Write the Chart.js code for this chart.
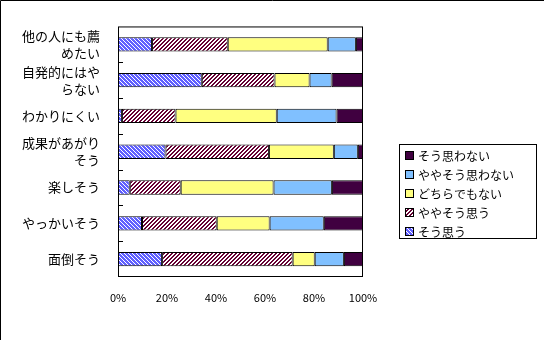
<!DOCTYPE html>
<html>
<head>
<meta charset="utf-8">
<script src="https://cdn.jsdelivr.net/npm/chart.js@4"></script>
<style>
  html, body { margin: 0; padding: 0; background: #fff; }
  #wrap { position: relative; width: 544px; height: 340px; }
</style>
</head>
<body>
<div id="wrap"><canvas id="chart" width="544" height="340"></canvas></div>
<script>
// categories (top to bottom)
const categories = [
    ['他の人にも薦', 'めたい'],
    ['自発的にはや', 'らない'],
    'わかりにくい',
    ['成果があがり', 'そう'],
    '楽しそう',
    'やっかいそう',
    '面倒そう'
];

// series values (%)
const soOmou       = [13.9, 34.2, 1.6, 19.4, 4.8, 9.8, 18.0];
const yayaSoOmou   = [30.9, 29.7, 21.9, 42.2, 20.8, 30.5, 53.3];
const dochiraDemo  = [40.8, 14.3, 41.3, 26.5, 37.9, 21.6, 9.0];
const yayaOmowanai = [11.5, 9.0, 24.4, 9.8, 23.8, 22.1, 11.9];
const soOmowanai   = [2.9, 12.8, 10.8, 2.1, 12.7, 16.0, 7.8];

const xTicks = [0, 20, 40, 60, 80, 100];

// diagonal stripe fills
function stripes(color, dir, on) {
    const c = document.createElement('canvas');
    c.width = 4; c.height = 4;
    const g = c.getContext('2d');
    g.fillStyle = '#fff';
    g.fillRect(0, 0, 4, 4);
    g.fillStyle = color;
    for (let y = 0; y < 4; y++) {
        for (let x = 0; x < 4; x++) {
            const k = dir > 0 ? (x + y) % 4 : ((x - y) % 4 + 4) % 4;
            if (on.includes(k)) g.fillRect(x, y, 1, 1);
        }
    }
    return g.createPattern(c, 'repeat');
}

const blueStripe = stripes('#6060ff', -1, [0, 1, 2]);
const redStripe = stripes('#660033', 1, [0, 1]);

const frame = {
    id: 'frame',
    afterDraw(chart) {
        const ctx = chart.ctx;
        const a = chart.chartArea;
        ctx.save();
        ctx.strokeStyle = '#000';
        ctx.lineWidth = 1;
        ctx.strokeRect(a.left + 0.5, a.top + 0.5, a.right - a.left - 1, a.bottom - a.top - 1);
        // inner tick marks at category boundaries
        const band = (a.bottom - a.top) / categories.length;
        ctx.beginPath();
        for (let i = 1; i < categories.length; i++) {
            const y = Math.round(a.top + band * i) + 0.5;
            ctx.moveTo(a.left, y);
            ctx.lineTo(a.left + 5, y);
        }
        ctx.stroke();
        // outer border (top / left)
        ctx.beginPath();
        ctx.moveTo(0.5, 340); ctx.lineTo(0.5, 0.5); ctx.lineTo(544, 0.5);
        ctx.stroke();

        // legend
        const lx = 399, ly = 144, lw = 138, lh = 95;
        ctx.fillStyle = '#fff';
        ctx.fillRect(lx, ly, lw, lh);
        ctx.strokeRect(lx + 0.5, ly + 0.5, lw - 1, lh - 1);
        ctx.font = '12px "Noto Sans CJK JP"';
        ctx.textBaseline = 'middle';
        const ds = chart.data.datasets.slice().reverse();
        ds.forEach((d, i) => {
            const cy = 155 + i * 19;
            ctx.fillStyle = d.backgroundColor;
            ctx.fillRect(405, cy - 4, 8, 8);
            ctx.strokeRect(405.5, cy - 3.5, 8, 8);
            ctx.fillStyle = '#000';
            ctx.fillText(d.label, 418, cy + 1);
        });
        ctx.restore();
    }
};

new Chart(document.getElementById('chart').getContext('2d'), {
    type: 'bar',
    data: {
        labels: categories,
        datasets: [
            { label: 'そう思う', data: soOmou, backgroundColor: blueStripe },
            { label: 'ややそう思う', data: yayaSoOmou, backgroundColor: redStripe },
            { label: 'どちらでもない', data: dochiraDemo, backgroundColor: '#ffff80' },
            { label: 'ややそう思わない', data: yayaOmowanai, backgroundColor: '#80c0ff' },
            { label: 'そう思わない', data: soOmowanai, backgroundColor: '#400040' }
        ].map(d => Object.assign(d, {
            borderColor: '#000',
            borderWidth: 1,
            borderSkipped: false,
            categoryPercentage: 1,
            barPercentage: 0.4
        }))
    },
    options: {
        indexAxis: 'y',
        responsive: false,
        animation: false,
        layout: { padding: { top: 15, right: 181, left: 0, bottom: 0 } },
        plugins: {
            legend: { display: false },
            tooltip: { enabled: false }
        },
        scales: {
            x: {
                stacked: true,
                min: 0,
                max: 100,
                afterBuildTicks: s => { s.ticks = xTicks.map(v => ({ value: v })); },
                afterFit: s => { s.height = 63; },
                grid: { display: false, drawTicks: false },
                border: { display: false },
                ticks: {
                    padding: 14,
                    color: '#000',
                    font: { family: 'Noto Sans CJK JP', size: 11 },
                    callback: v => v + '%'
                }
            },
            y: {
                stacked: true,
                afterFit: s => { s.width = 118; },
                grid: { display: false, drawTicks: false },
                border: { display: false },
                ticks: {
                    autoSkip: false,
                    padding: 18,
                    color: '#000',
                    font: { family: 'Noto Sans CJK JP', size: 13, lineHeight: 1.3 }
                }
            }
        }
    },
    plugins: [frame]
});
</script>
</body>
</html>
